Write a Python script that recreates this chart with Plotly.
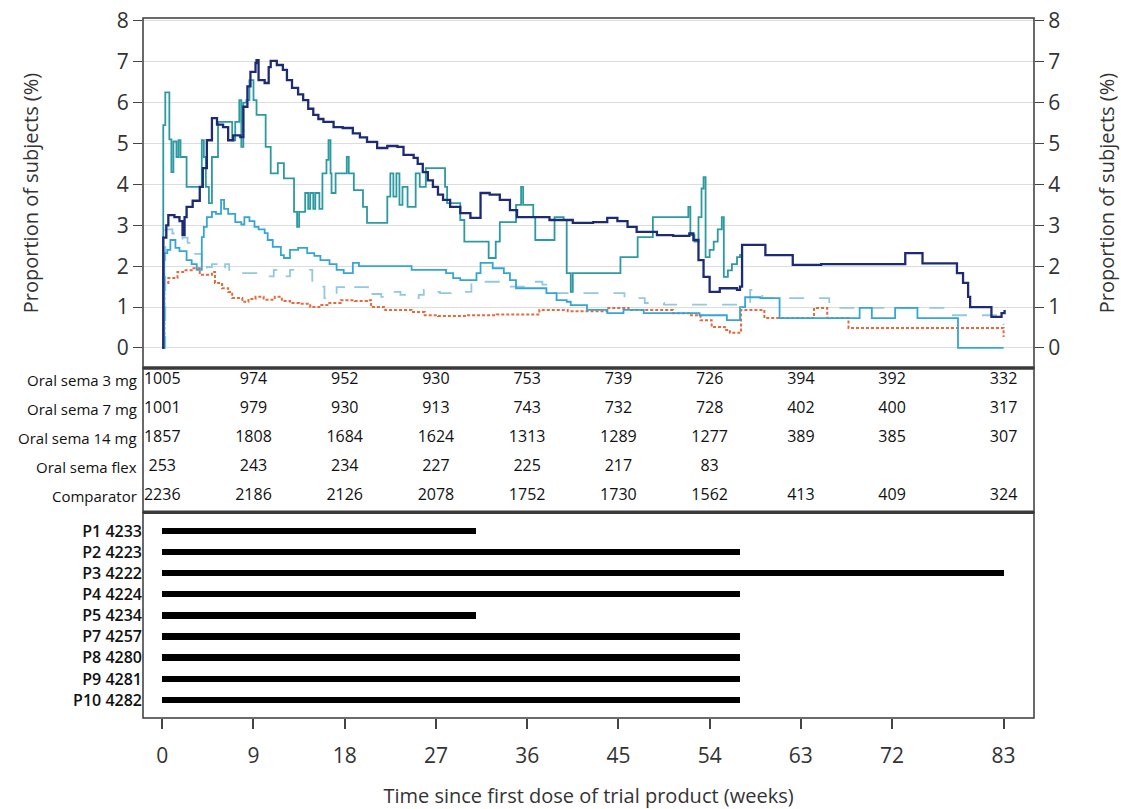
import plotly.graph_objects as go

# ---------------- data ----------------
weeks_ticks = [0, 9, 18, 27, 36, 45, 54, 63, 72, 83]

# Step curves (x = weeks, y = proportion of subjects, %)
sema14_x = [0, 0.1, 0.4, 0.6, 1.2, 1.7, 2.0, 2.2, 2.4, 3.0, 3.7, 4.0, 4.4, 4.9, 5.4, 6.0, 6.5, 7.0, 7.7, 8.0, 8.4, 8.7, 9.2, 9.3, 9.5, 10.1, 10.5, 10.7, 11.3, 11.9, 12.3, 12.8, 13.4, 13.9, 14.4, 14.9, 15.4, 15.9, 16.9, 17.8, 18.8, 19.5, 20.2, 21.2, 22.2, 23.2, 23.8, 24.8, 25.2, 25.7, 26.2, 26.7, 27.2, 27.7, 28.4, 29.4, 30.4, 31.4, 32.3, 33.3, 34.3, 35.0, 37.3, 38.2, 40.5, 42.5, 43.9, 44.9, 45.9, 46.8, 48.8, 50.4, 52.0, 52.4, 52.9, 53.4, 54.0, 55.0, 56.7, 57.0, 57.2, 59.5, 62.2, 65.0, 73.3, 75.0, 78.4, 79.0, 79.5, 79.7, 81.8, 82.8, 83.1]
sema14_y = [0, 2.7, 3.0, 3.25, 3.2, 3.1, 2.76, 3.2, 3.45, 3.6, 3.94, 4.4, 5.08, 5.62, 5.46, 5.4, 5.08, 5.2, 5.16, 5.9, 6.4, 6.75, 6.97, 7.04, 6.55, 6.48, 6.87, 7.02, 6.92, 6.8, 6.55, 6.36, 6.2, 6.06, 5.85, 5.7, 5.6, 5.53, 5.4, 5.38, 5.25, 5.15, 5.04, 4.89, 4.94, 4.92, 4.72, 4.65, 4.5, 4.3, 4.1, 3.94, 3.75, 3.62, 3.45, 3.3, 3.18, 3.79, 3.75, 3.62, 3.37, 3.2, 3.2, 3.13, 3.06, 3.08, 3.18, 3.1, 2.96, 2.84, 2.76, 2.74, 2.8, 2.64, 2.15, 1.74, 1.37, 1.46, 1.42, 1.5, 2.52, 2.27, 2.03, 2.05, 2.32, 2.07, 1.83, 1.59, 1.25, 1.0, 0.76, 0.85, 0.93]

flex_x = [0, 0.1, 0.3, 0.7, 0.9, 1.1, 1.4, 1.6, 1.8, 2.4, 3.9, 4.1, 4.3, 4.6, 4.9, 5.5, 6.9, 7.2, 7.6, 7.8, 8.0, 8.3, 8.6, 9.0, 9.3, 10.2, 10.7, 11.4, 12.0, 13.0, 13.3, 13.5, 14.1, 14.4, 14.6, 14.9, 15.1, 15.5, 15.8, 16.2, 16.4, 16.6, 16.7, 17.1, 18.2, 18.4, 18.9, 19.8, 20.2, 22.2, 22.5, 22.8, 23.1, 23.4, 23.7, 24.2, 25.0, 25.4, 26.0, 27.9, 28.1, 29.4, 29.8, 32.2, 32.9, 33.3, 34.9, 35.4, 35.6, 36.6, 36.8, 38.7, 39.6, 39.9, 40.3, 40.5, 45.2, 46.9, 48.4, 51.9, 52.1, 52.5, 52.9, 53.2, 53.4, 53.6, 54.0, 54.4, 54.8, 55.2, 55.4, 55.8, 56.2, 56.7, 57.0]
flex_y = [0, 5.45, 6.25, 5.1, 4.3, 5.05, 4.67, 5.08, 4.67, 3.94, 5.08, 4.67, 3.94, 3.54, 4.67, 5.53, 5.08, 5.53, 6.06, 4.92, 6.0, 6.06, 6.55, 6.06, 5.7, 4.92, 4.27, 4.52, 4.15, 3.33, 2.96, 3.33, 3.79, 3.4, 3.79, 3.4, 3.79, 3.4, 4.27, 4.6, 5.08, 4.27, 3.79, 4.27, 4.67, 4.27, 3.86, 3.45, 3.06, 3.7, 4.27, 3.7, 4.27, 3.5, 3.94, 3.45, 4.27, 3.94, 4.4, 3.94, 3.54, 3.13, 2.6, 2.2, 2.6, 3.08, 3.5, 3.94, 3.5, 3.2, 2.64, 3.2, 3.13, 1.83, 1.37, 1.83, 2.22, 2.71, 3.2, 3.45, 2.76, 2.6, 3.2, 3.9, 4.18, 2.22, 2.4, 2.6, 2.9, 3.2, 1.74, 1.9, 2.05, 2.22, 2.3]

sema7_x = [0, 0.2, 0.5, 0.8, 1.3, 1.7, 2.4, 2.9, 3.4, 3.9, 4.1, 4.4, 4.9, 5.3, 5.8, 6.1, 6.5, 7.2, 7.8, 8.1, 8.6, 9.1, 9.5, 10.1, 10.4, 10.9, 11.7, 12.0, 12.6, 13.4, 14.3, 15.0, 15.6, 16.5, 17.2, 17.9, 18.8, 19.4, 23.8, 24.6, 27.3, 28.0, 28.7, 29.4, 31.0, 31.4, 32.6, 33.7, 34.3, 34.9, 37.9, 38.9, 39.9, 40.3, 41.9, 43.9, 45.5, 47.5, 53.0, 55.7, 57.0, 57.5, 59.0, 60.9, 68.8, 70.0, 72.3, 74.5, 78.5, 83.0]
sema7_y = [0, 2.32, 2.4, 2.64, 2.45, 2.37, 2.15, 2.05, 1.91, 2.71, 2.96, 3.2, 3.33, 3.28, 3.62, 3.4, 3.28, 3.08, 3.02, 3.2, 3.1, 2.96, 2.9, 2.81, 2.64, 2.47, 2.27, 2.2, 2.4, 2.45, 2.32, 2.25, 2.15, 2.05, 1.91, 1.83, 2.08, 2.0, 2.0, 1.91, 1.91, 1.83, 1.71, 1.66, 1.83, 2.08, 1.95, 1.83, 1.66, 1.46, 1.34, 1.17, 1.13, 1.05, 0.93, 0.85, 0.93, 0.85, 0.8, 0.68, 1.0, 1.24, 1.22, 0.73, 0.98, 0.73, 0.98, 0.73, 0.0, 0.0]

sema3_x = [0, 0.3, 1.0, 1.5, 2.0, 2.5, 3.1, 3.9, 4.4, 4.9, 5.8, 6.2, 6.6, 7.5, 9.5, 10.2, 11.0, 11.8, 12.6, 14.6, 14.8, 15.3, 16.0, 17.2, 18.1, 18.6, 20.3, 20.6, 21.6, 22.0, 23.5, 24.7, 25.3, 25.8, 26.4, 27.4, 28.5, 30.5, 32.5, 33.2, 33.9, 36.7, 37.5, 38.4, 45.6, 47.6, 49.5, 56.7, 58.0, 59.2, 65.8, 76.5, 77.5, 82.5, 83.0]
sema3_y = [0, 2.9, 2.8, 2.64, 2.7, 2.57, 2.3, 1.91, 1.98, 2.05, 1.91, 2.05, 1.91, 1.83, 1.8, 1.75, 1.91, 1.75, 1.91, 1.91, 1.59, 1.5, 1.22, 1.49, 1.42, 1.49, 1.25, 1.32, 1.25, 1.37, 1.3, 1.22, 1.3, 1.42, 1.37, 1.34, 1.37, 1.62, 1.62, 1.55, 1.5, 1.62, 1.55, 1.34, 1.22, 1.1, 1.06, 1.06, 1.42, 1.22, 0.98, 0.98, 0.8, 0.8, 0.56]

comp_x = [0, 0.2, 0.6, 1.5, 2.2, 2.9, 3.7, 4.9, 5.2, 5.9, 6.5, 6.9, 7.9, 8.5, 9.2, 10.0, 11.1, 11.8, 12.6, 13.5, 14.6, 15.5, 16.3, 17.6, 19.0, 20.2, 20.6, 22.0, 24.6, 25.9, 27.2, 30.0, 33.0, 37.2, 40.0, 43.9, 46.0, 50.4, 52.0, 53.1, 54.2, 55.5, 56.0, 57.1, 59.4, 64.3, 65.6, 67.7, 83.0]
comp_y = [0, 1.59, 1.71, 1.86, 1.9, 1.95, 1.79, 1.86, 1.59, 1.46, 1.37, 1.22, 1.13, 1.2, 1.25, 1.18, 1.25, 1.15, 1.1, 1.08, 1.0, 1.05, 1.1, 1.17, 1.15, 1.17, 1.0, 0.93, 0.88, 0.8, 0.78, 0.8, 0.82, 0.93, 0.9, 0.98, 0.93, 0.85, 0.8, 0.68, 0.51, 0.44, 0.37, 0.93, 0.73, 0.98, 0.73, 0.49, 0.27]

# Number-at-risk table
table_rows = ["Oral sema 3 mg", "Oral sema 7 mg", "Oral sema 14 mg", "Oral sema flex", "Comparator"]
n_sema3 = [1005, 974, 952, 930, 753, 739, 726, 394, 392, 332]
n_sema7 = [1001, 979, 930, 913, 743, 732, 728, 402, 400, 317]
n_sema14 = [1857, 1808, 1684, 1624, 1313, 1289, 1277, 389, 385, 307]
n_flex = [253, 243, 234, 227, 225, 217, 83]
n_comp = [2236, 2186, 2126, 2078, 1752, 1730, 1562, 413, 409, 324]

# Exposure bars
patients = ["P1 4233", "P2 4223", "P3 4222", "P4 4224", "P5 4234", "P7 4257", "P8 4280", "P9 4281", "P10 4282"]
exposure_weeks = [31, 57, 83, 57, 31, 57, 57, 57, 57]

# ---------------- figure ----------------
FONT = "Open Sans"
fig = go.Figure()

def step(x, y, color, dash, width, yaxis="y"):
    fig.add_trace(go.Scatter(x=x, y=y, mode="lines", line_shape="hv",
                             line=dict(color=color, dash=dash, width=width),
                             xaxis="x", yaxis=yaxis, showlegend=False, hoverinfo="skip"))

step(comp_x, comp_y, "#e8683a", "3px,2px", 2)
step(sema3_x, sema3_y, "#93c8dd", "longdash", 1.8)
step(sema7_x, sema7_y, "#35a5d6", "solid", 1.8)
step(flex_x, flex_y, "#2c9aa0", "solid", 1.8)
step(sema14_x, sema14_y, "#1d2b74", "solid", 2.3, yaxis="y4")

# Table as text trace
tx, ty, tt = [], [], []
for r, vals in enumerate([n_sema3, n_sema7, n_sema14, n_flex, n_comp]):
    for i, v in enumerate(vals):
        tx.append(weeks_ticks[i])
        ty.append(r)
        tt.append(str(v))
fig.add_trace(go.Scatter(x=tx, y=ty, text=tt, mode="text", textposition="middle center",
                         textfont=dict(family=FONT, size=16, color="#111"),
                         xaxis="x", yaxis="y2", showlegend=False, hoverinfo="skip"))

for r, lab in enumerate(table_rows):
    fig.add_annotation(x=0, xref="paper", y=r, yref="y2", text=lab, showarrow=False,
                       xanchor="right", xshift=-4, font=dict(family=FONT, size=15, color="#111"))

# Exposure bars
fig.add_trace(go.Bar(x=exposure_weeks, y=patients, orientation="h", base=0,
                     marker=dict(color="black", line=dict(width=0)), width=0.3,
                     xaxis="x", yaxis="y3", showlegend=False, hoverinfo="skip"))

D_BAR = [0, 0.294]
D_TAB = [0.294, 0.5]
D_TOP = [0.5, 1.0]
YR = [-0.49, 8.07]

tick_font = dict(family=FONT, size=21, color="#333")
xtitle_font = dict(family=FONT, size=20, color="#333")
ytitle_font = dict(family=FONT, size=20, color="#333")

fig.update_layout(
    width=1121, height=809,
    margin=dict(l=143, r=87, t=18, b=91, autoexpand=False),
    paper_bgcolor="white", plot_bgcolor="white",
    font=dict(family=FONT, color="#333"),
    bargap=0,
    xaxis=dict(domain=[0, 1], range=[-1.9, 86], anchor="y3", automargin=False,
               tickvals=weeks_ticks, ticktext=[str(v) for v in weeks_ticks],
               ticks="outside", ticklen=10, tickwidth=1.5, tickcolor="#444",
               ticklabelstandoff=9, ticklabeloverflow="allow",
               tickfont=tick_font, showgrid=False, zeroline=False, showline=False,
               title=dict(text="Time since first dose of trial product (weeks)", font=xtitle_font, standoff=21)),
    yaxis=dict(domain=D_TOP, range=YR, anchor="x", automargin=False, tickvals=list(range(9)),
               ticks="outside", ticklen=9, tickwidth=1.2, tickcolor="#444", ticklabeloverflow="allow",
               tickfont=tick_font, showgrid=True, gridcolor="#dddddd", gridwidth=1,
               zeroline=False, showline=False,
               title=dict(text="Proportion of subjects (%)", font=ytitle_font, standoff=72)),
    yaxis4=dict(overlaying="y", side="right", anchor="x", automargin=False, range=YR, tickvals=list(range(9)),
                ticks="outside", ticklen=9, tickwidth=1.2, tickcolor="#444", ticklabeloverflow="allow",
                tickfont=tick_font, showgrid=False, zeroline=False, showline=False,
                title=dict(text="Proportion of subjects (%)", font=ytitle_font, standoff=40)),
    yaxis2=dict(domain=D_TAB, range=[4.55, -0.41], anchor="x", visible=False),
    yaxis3=dict(domain=D_BAR, range=[8.85, -0.9], anchor="x", type="category", automargin=False,
                ticks="", showgrid=False, zeroline=False, showline=False, ticklabeloverflow="allow",
                tickfont=dict(family=FONT, size=16, color="#111", weight=600)),
)

# panel frames
for d in (D_TOP, D_TAB, D_BAR):
    fig.add_shape(type="rect", xref="paper", yref="paper", x0=0, x1=1, y0=d[0], y1=d[1],
                  line=dict(color="#3a3a3a", width=1.5), layer="above")
for yy in (D_TOP[0], D_TAB[0]):
    fig.add_shape(type="line", xref="paper", yref="paper", x0=0, x1=1, y0=yy, y1=yy,
                  line=dict(color="#3a3a3a", width=3.5), layer="above")

fig.write_html("out.html", config={"displayModeBar": False},
               post_script="document.body.style.margin='0';document.documentElement.style.overflow='hidden';")
